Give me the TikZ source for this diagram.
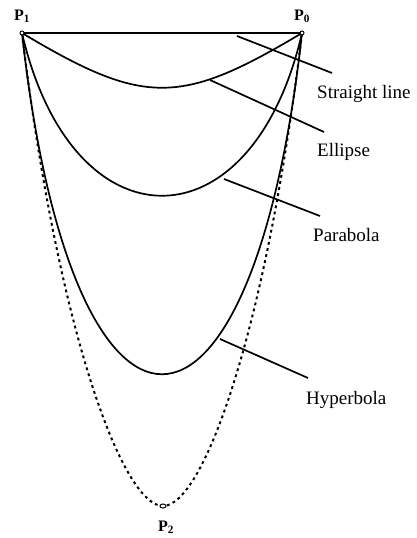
\documentclass[tikz,border=0pt]{standalone}
\usetikzlibrary{shapes.geometric}
\usepackage{fontspec}
\setmainfont{Liberation Serif}
\begin{document}
\begin{tikzpicture}[x=1pt,y=-1pt,
  curve/.style={line width=1.7pt},
  dotcurve/.style={line width=2pt,dash pattern=on 2.8pt off 3.4pt},
  leader/.style={line width=1.7pt},
  ptmark/.style={circle,draw,fill=white,inner sep=0pt,minimum size=4pt,line width=1pt},
  lbl/.style={anchor=base west,inner sep=0pt,font=\fontsize{19}{22}\selectfont},
  plbl/.style={anchor=base west,inner sep=0pt,font=\fontsize{16}{18}\selectfont\bfseries}]
\useasboundingbox (0,0) rectangle (417,538);
\coordinate (P1) at (22,33);
\coordinate (P0) at (302,33);
\coordinate (P2) at (163,506);
% limiting curve (dashed)
\draw[dotcurve] (P1) .. controls (58,333) and (123,506) .. (P2)
  .. controls (203,506) and (266,333) .. (P0);
% conics
\draw[curve] (P1) -- (P0);
\draw[curve] (P1) .. controls (144,106) and (180,106) .. (P0);
\draw[curve] (P1) .. controls (72,250) and (252,250) .. (P0);
\draw[curve] (P1) .. controls (72,488) and (252,488) .. (P0);
% point markers
\node[ptmark] (m1) at (P1) {};
\node[ptmark] (m0) at (P0) {};
\node[ptmark,ellipse,minimum width=6pt,minimum height=4pt] (m2) at (P2) {};
\node[plbl] (l1) at (14,20) {P\textsubscript{1}};
\node[plbl] (l0) at (294,20) {P\textsubscript{0}};
\node[plbl] (l2) at (158,531) {P\textsubscript{2}};
% labels and leaders
\node[lbl] (tsl) at (317,98) {Straight line};
\node[lbl] (tel) at (317,156) {Ellipse};
\node[lbl] (tpa) at (313,241) {Parabola};
\node[lbl] (thy) at (306,404) {Hyperbola};
\coordinate (slA) at (237,36);  \coordinate (slB) at (332,73);
\coordinate (elA) at (210,80);  \coordinate (elB) at (324,132);
\coordinate (paA) at (224,179); \coordinate (paB) at (320,216);
\coordinate (hyA) at (220,339); \coordinate (hyB) at (308,378);
\draw[leader] (slA) -- (slB);
\draw[leader] (elA) -- (elB);
\draw[leader] (paA) -- (paB);
\draw[leader] (hyA) -- (hyB);
\end{tikzpicture}
\end{document}
